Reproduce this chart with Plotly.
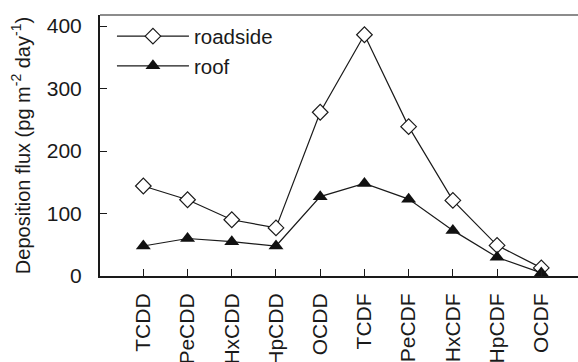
import plotly.graph_objects as go

categories = ["TCDD", "PeCDD", "HxCDD", "HpCDD", "OCDD", "TCDF", "PeCDF", "HxCDF", "HpCDF", "OCDF"]
roadside = [144, 122, 90, 77, 262, 386, 239, 121, 49, 13]
roof = [48, 60, 55, 48, 127, 148, 123, 73, 30, 5]
y_ticks = [0, 100, 200, 300, 400]

FONT = "Liberation Sans, Arial, sans-serif"
x_idx = list(range(len(categories)))

fig = go.Figure()
fig.add_trace(go.Scatter(
    x=x_idx, y=roadside, name="roadside", mode="lines+markers",
    line=dict(color="#1a1a1a", width=1.2),
    marker=dict(symbol="diamond", size=12, color="white", line=dict(color="#1a1a1a", width=1.2)),
))
fig.add_trace(go.Scatter(
    x=x_idx, y=roof, name="roof", mode="lines+markers",
    line=dict(color="#1a1a1a", width=1.2),
    marker=dict(symbol="triangle-up", size=13, color="#111111", line=dict(color="#111111", width=0)),
))

fig.update_layout(
    width=578, height=362,
    margin=dict(l=100, r=0, t=15, b=86, autoexpand=False),
    paper_bgcolor="white", plot_bgcolor="white",
    font=dict(family=FONT, size=21, color="#1a1a1a"),
    showlegend=True,
    legend=dict(x=0.025, y=0.995, xanchor="left", yanchor="top",
                bgcolor="rgba(0,0,0,0)", font=dict(size=20.5), tracegroupgap=0,
                itemwidth=72),
    shapes=[dict(type="line", xref="paper", yref="paper", x0=0, x1=1, y0=1, y1=1,
                 line=dict(color="#1a1a1a", width=1.2))],
)
fig.update_xaxes(
    tickmode="array", tickvals=x_idx, ticktext=categories, tickangle=-90,
    range=[-0.98, 9.83], showgrid=False, zeroline=False, automargin=False,
    showline=True, linecolor="#1a1a1a", linewidth=2,
    ticks="inside", ticklen=7, tickcolor="#1a1a1a", tickwidth=1.2,
    ticklabelstandoff=7,
    tickfont=dict(size=21),
)
fig.update_yaxes(
    tickmode="array", tickvals=y_ticks, range=[0, 417.6],
    showgrid=False, zeroline=False, automargin=False,
    showline=True, linecolor="#1a1a1a", linewidth=2,
    ticks="inside", ticklen=7, tickcolor="#1a1a1a", tickwidth=1.2,
    ticklabelstandoff=12,
    tickfont=dict(size=21),
    title=dict(text="Deposition flux (pg m<sup>-2</sup> day<sup>-1</sup>)", font=dict(size=20), standoff=11),
)

fig.write_html("out.html")
